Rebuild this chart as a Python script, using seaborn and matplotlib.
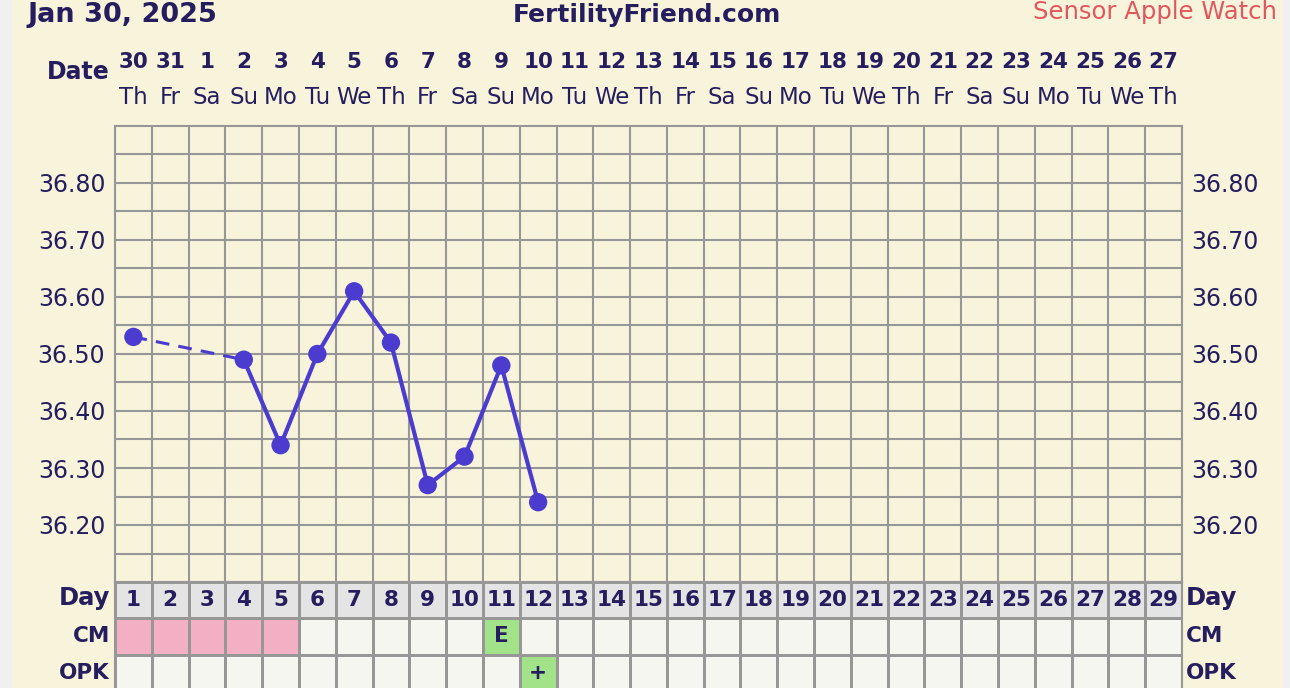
import numpy as np
import pandas as pd
import matplotlib
matplotlib.use("Agg")
import matplotlib.pyplot as plt
from matplotlib import font_manager
from matplotlib.colors import ListedColormap
import matplotlib.transforms as mtransforms
import seaborn as sns

# ---------------- data ----------------
cycle_days = list(range(1, 30))
date_nums = [30, 31, 1, 2, 3, 4, 5, 6, 7, 8, 9, 10, 11, 12, 13, 14, 15, 16, 17,
             18, 19, 20, 21, 22, 23, 24, 25, 26, 27]
weekdays = ["Th", "Fr", "Sa", "Su", "Mo", "Tu", "We", "Th", "Fr", "Sa", "Su", "Mo",
            "Tu", "We", "Th", "Fr", "Sa", "Su", "Mo", "Tu", "We", "Th", "Fr", "Sa",
            "Su", "Mo", "Tu", "We", "Th"]
temp_days = [1, 4, 5, 6, 7, 8, 9, 10, 11, 12]
temps = [36.53, 36.49, 36.34, 36.50, 36.61, 36.52, 36.27, 36.32, 36.48, 36.24]
ytick_vals = [36.20, 36.30, 36.40, 36.50, 36.60, 36.70, 36.80]
cm_days = [1, 2, 3, 4, 5, 11]
cm_codes = ["M", "M", "M", "M", "M", "E"]   # M = menstruation (pink), E = eggwhite
opk_days = [12]
opk_codes = ["+"]
title_left = "Jan 30, 2025"
title_mid = "FertilityFriend.com"
title_right = "Sensor Apple Watch"
row_labels = ["Day", "CM", "OPK"]

# ---------------- style ----------------
sns.set_theme(style="white")
avail = {f.name for f in font_manager.fontManager.ttflist}
COND = "DejaVu Sans Condensed" if "DejaVu Sans Condensed" in avail else (
    "Liberation Sans Narrow" if "Liberation Sans Narrow" in avail else "DejaVu Sans")
plt.rcParams["font.family"] = ["DejaVu Sans"]

CREAM = "#f8f4dc"
OUTER = "#f0f0f0"
GRID = "#979797"
NAVY = "#251d5e"
LINE = "#4b3ccf"
RED = "#e0585e"

W, H = 1290, 688
fig = plt.figure(figsize=(W / 100, H / 100), dpi=100, facecolor=OUTER)
fig.patches.append(plt.Rectangle((12 / W, 0), (1283 - 12) / W, 1, transform=fig.transFigure,
                                 facecolor=CREAM, edgecolor="none", zorder=-10))

def fx(px):
    return px / W

def fy(py):
    return 1 - py / H

gx0, gx1 = 115, 1182
gy0, gy1 = 126, 582
ax = fig.add_axes([fx(gx0), fy(gy1), fx(gx1) - fx(gx0), fy(gy0) - fy(gy1)])
ax.set_facecolor(CREAM)

# data line
df = pd.DataFrame({"day": temp_days, "temp": temps})
solid = df[df["day"] >= 4]
sns.lineplot(data=solid, x="day", y="temp", ax=ax, color=LINE, linewidth=3.0,
             sort=True, estimator=None, zorder=3)
gap = df.iloc[0:2]
ax.plot(gap["day"], gap["temp"], color=LINE, linewidth=2.2, linestyle=(0, (4.5, 3)), zorder=3)
sns.scatterplot(data=df, x="day", y="temp", ax=ax, color=LINE, s=175, edgecolor="none",
                zorder=4, legend=False)
ax.set_xlabel("")
ax.set_ylabel("")
ax.set_xlim(0.5, 29.5)
ax.set_ylim(36.10, 36.90)

# grid
ax.set_xticks([])
ax.set_xticks(np.arange(0.5, 29.6, 1.0), minor=True)
ax.set_yticks(ytick_vals)
ax.set_yticks(np.arange(36.15, 36.90, 0.1), minor=True)
ax.grid(which="both", color=GRID, linewidth=1.5)
ax.set_axisbelow(True)
for s in ax.spines.values():
    s.set_color(GRID)
    s.set_linewidth(1.5)
ax.tick_params(which="both", length=0)
ax.set_yticklabels([f"{v:.2f}" for v in ytick_vals], fontsize=17, color=NAVY)
ax.tick_params(axis="y", labelleft=True, labelright=True, pad=7)

# date header
trans = mtransforms.blended_transform_factory(ax.transData, fig.transFigure)
for d, dn, wd in zip(cycle_days, date_nums, weekdays):
    ax.text(d, fy(62), str(dn), transform=trans, ha="center", va="center",
            fontsize=15.5, fontweight="bold", color=NAVY, family=COND)
    ax.text(d, fy(97), wd, transform=trans, ha="center", va="center",
            fontsize=16.5, color=NAVY, family=COND)
fig.text(fx(110), fy(72), "Date", ha="right", va="center", fontsize=17,
         fontweight="bold", color=NAVY, family=COND)

fig.text(fx(27), fy(15), title_left, ha="left", va="center", fontsize=19.5,
         fontweight="bold", color=NAVY, family=COND)
fig.text(fx(647), fy(15), title_mid, ha="center", va="center", fontsize=18,
         fontweight="bold", color=NAVY, family=COND)
fig.text(fx(1277), fy(12), title_right, ha="right", va="center", fontsize=17.5,
         color=RED)

# bottom table
tb = fig.add_axes([fx(gx0), fy(691), fx(gx1) - fx(gx0), fy(582) - fy(691)])
code_map = {"M": 2, "E": 3, "+": 3}
mat = np.ones((3, 29))
mat[0, :] = 0
ann = np.full((3, 29), "", dtype=object)
for d in cycle_days:
    ann[0, d - 1] = str(d)
for d, c in zip(cm_days, cm_codes):
    mat[1, d - 1] = code_map[c]
    if c != "M":
        ann[1, d - 1] = c
for d, c in zip(opk_days, opk_codes):
    mat[2, d - 1] = code_map[c]
    ann[2, d - 1] = c
cmap = ListedColormap(["#e4e4e4", "#f6f6f0", "#f3b0c4", "#a2e38a"])
sns.heatmap(mat, ax=tb, cmap=cmap, vmin=-0.5, vmax=3.5, cbar=False,
            linewidths=2, linecolor=GRID, annot=ann, fmt="",
            annot_kws={"fontsize": 15.5, "fontweight": "bold", "color": NAVY,
                       "family": COND})
tb.set_xticks([])
tb.set_yticks([])
for s in ["left", "right", "top", "bottom"]:
    tb.spines[s].set_visible(True)
    tb.spines[s].set_color(GRID)
    tb.spines[s].set_linewidth(1.5)
ttrans = mtransforms.blended_transform_factory(fig.transFigure, tb.transData)
for i, lab in enumerate(row_labels):
    fs = 17.5 if lab == "Day" else 15.5
    yoff = 0.45 if lab == "Day" else 0.5
    tb.text(fx(110), i + yoff, lab, transform=ttrans, ha="right", va="center",
            fontsize=fs, fontweight="bold", color=NAVY, family=COND)
    tb.text(fx(1186), i + yoff, lab, transform=ttrans, ha="left", va="center",
            fontsize=fs, fontweight="bold", color=NAVY, family=COND)

fig.savefig("out.png", dpi=100, facecolor=OUTER)
